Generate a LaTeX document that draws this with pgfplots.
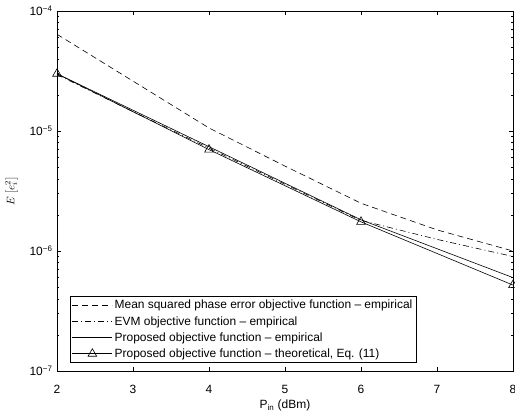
\documentclass[border=0pt]{standalone}
\usepackage{fontspec}
\setmainfont{Liberation Sans}
\usepackage{pgfplots}
\pgfplotsset{compat=1.18}

\begin{document}
\begin{tikzpicture}
\begin{axis}[
    name=ax,
    scale only axis,
    width=456bp, height=360bp,
    xmin=2, xmax=8,
    ymode=log, ymin=1e-7, ymax=1e-4,
    xtick={2,3,4,5,6,7,8},
    ytick={1e-7,1e-6,1e-5,1e-4},
    yticklabels={10\textsuperscript{−7},10\textsuperscript{−6},10\textsuperscript{−5},10\textsuperscript{−4}},
    tick align=inside,
    major tick length=4bp, minor tick length=2bp,
    every tick/.style={black, line width=0.5bp},
    axis line style={line width=0.7bp},
    /pgf/number format/assume math mode=true,
    tick label style={font=\fontsize{12}{14}\selectfont},
    xticklabel style={anchor=center, yshift=-18bp},
    yticklabel style={xshift=-1bp},
    xlabel={P\textsubscript{in} (dBm)},
    ylabel={$E\left[e_i^2\right]$},
    xlabel style={at={(axis description cs:0.5,-0.095)}, anchor=center, font=\fontsize{12}{14}\selectfont},
    ylabel style={at={(axis description cs:-0.1,0.5)}, anchor=center, font=\fontsize{11}{13}\selectfont},
    legend style={at={(rel axis cs:0.028,0.022)}, anchor=south west,
        font=\fontsize{12}{14}\selectfont, draw=black, line width=0.6bp,
        row sep=2bp, inner sep=2bp},
    legend cell align=left,
    legend image code/.code={\draw[mark repeat=2,mark phase=2,#1] plot coordinates {(0bp,0bp) (20bp,0bp) (40bp,0bp)};},
]
    % mean squared phase error
    \addplot[black, line width=0.6bp, dash pattern=on 6bp off 4bp] coordinates {
        (2,6.4e-5) (4,1.06e-5) (5,5.1e-6) (6,2.5e-6) (7,1.5e-6) (8,1.0e-6)
    };
    \addlegendentry{Mean squared phase error objective function – empirical}

    % EVM
    \addplot[black, line width=0.6bp, dash pattern=on 6bp off 3bp on 1bp off 3bp] coordinates {
        (2,2.95e-5) (3,1.45e-5) (4,7.2e-6) (5,3.6e-6) (6,1.8e-6) (7,1.25e-6) (8,9.0e-7)
    };
    \addlegendentry{EVM objective function – empirical}

    % proposed, empirical
    \addplot[black, line width=0.6bp] coordinates {
        (2,3.0e-5) (4,7.4e-6) (6,1.82e-6) (8,6.0e-7)
    };
    \addlegendentry{Proposed objective function – empirical}

    % proposed, theoretical
    \addplot[black, line width=0.6bp, mark=triangle, mark size=5bp, mark options={solid}] coordinates {
        (2,3.0e-5) (4,7.0e-6) (6,1.75e-6) (8,5.2e-7)
    };
    \addlegendentry{Proposed objective function – theoretical, Eq. (11)}
\end{axis}
\pgfresetboundingbox
\useasboundingbox ([shift={(-57bp,-40bp)}]ax.south west) rectangle ([shift={(2bp,11bp)}]ax.north east);
\end{tikzpicture}
\end{document}
